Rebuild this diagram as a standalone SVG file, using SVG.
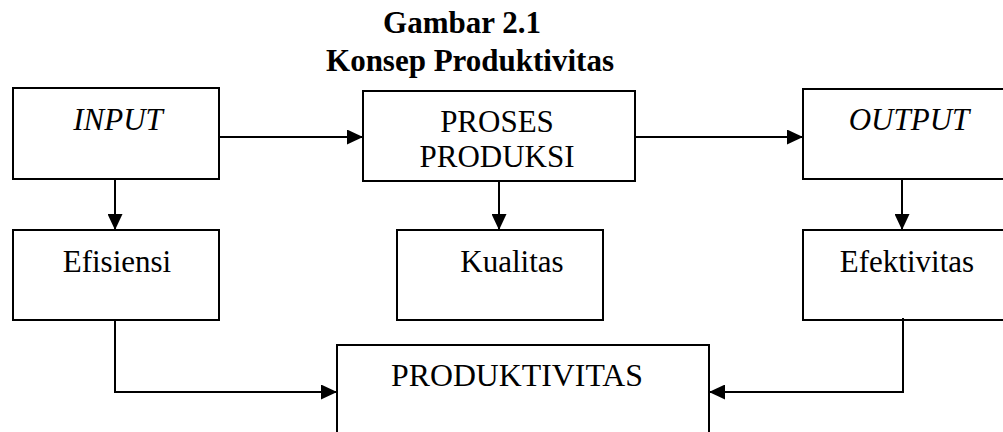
<svg xmlns="http://www.w3.org/2000/svg" width="1003" height="432" viewBox="0 0 1003 432">
  <style>
    .box { fill: #ffffff; stroke: #000000; stroke-width: 2; }
    .conn { fill: none; stroke: #000000; stroke-width: 2; }
    .lbl { font-family: "Liberation Serif", "Times New Roman", serif; font-size: 31px; fill: #000000; text-anchor: middle; }
    .it { font-style: italic; }
    .title { font-family: "Liberation Serif", "Times New Roman", serif; font-size: 31px; font-weight: bold; fill: #000000; text-anchor: middle; }
  </style>
  <defs>
    <marker id="arrow" markerUnits="userSpaceOnUse" markerWidth="16" markerHeight="15" refX="16" refY="7.5" orient="auto">
      <path d="M0,0 L16,7.5 L0,15 Z" fill="#000000"/>
    </marker>
  </defs>
  <rect width="1003" height="432" fill="#ffffff"/>
  <g id="title">
    <text class="title" x="462" y="33">Gambar 2.1</text>
    <text class="title" x="470" y="71">Konsep Produktivitas</text>
  </g>
  <g id="input">
    <rect class="box" x="13" y="88" width="206" height="91"/>
    <text class="lbl it" x="118" y="130">INPUT</text>
  </g>
  <g id="proses">
    <rect class="box" x="363" y="91" width="272" height="90"/>
    <text class="lbl" x="497" y="132">PROSES</text>
    <text class="lbl" x="497" y="167">PRODUKSI</text>
  </g>
  <g id="output">
    <rect class="box" x="803" y="89" width="210" height="90"/>
    <text class="lbl it" x="909" y="130">OUTPUT</text>
  </g>
  <g id="efisiensi">
    <rect class="box" x="13" y="230" width="206" height="90"/>
    <text class="lbl" x="117" y="272">Efisiensi</text>
  </g>
  <g id="kualitas">
    <rect class="box" x="397" y="230" width="206" height="90"/>
    <text class="lbl" x="512" y="272">Kualitas</text>
  </g>
  <g id="efektivitas">
    <rect class="box" x="803" y="230" width="210" height="90"/>
    <text class="lbl" x="907" y="272">Efektivitas</text>
  </g>
  <g id="produktivitas">
    <rect class="box" x="337" y="345" width="372" height="100"/>
    <text class="lbl" x="517" y="386" textLength="252" lengthAdjust="spacingAndGlyphs">PRODUKTIVITAS</text>
  </g>
  <g id="connectors">
    <path class="conn" d="M219,137 H363" marker-end="url(#arrow)"/>
    <path class="conn" d="M635,137 H803" marker-end="url(#arrow)"/>
    <path class="conn" d="M115,179 V230" marker-end="url(#arrow)"/>
    <path class="conn" d="M499,181 V230" marker-end="url(#arrow)"/>
    <path class="conn" d="M902,179 V230" marker-end="url(#arrow)"/>
    <path class="conn" d="M115,320 V392 H337" marker-end="url(#arrow)"/>
    <path class="conn" d="M903,318 V392 H709" marker-end="url(#arrow)"/>
  </g>
</svg>
